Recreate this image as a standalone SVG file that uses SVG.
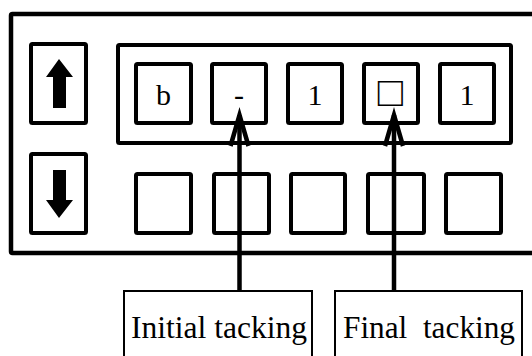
<svg xmlns="http://www.w3.org/2000/svg" width="532" height="356" viewBox="0 0 532 356">
<style>
  .frame{fill:none;stroke:#000;stroke-width:4.5}
  .box{fill:none;stroke:#000;stroke-width:4}
  .cell{fill:#fff;stroke:#000;stroke-width:4}
  .label{fill:#fff;stroke:#000;stroke-width:2}
  .sym{font-family:"Liberation Serif","Times New Roman",serif;font-size:30px;fill:#000;text-anchor:middle}
  .txt{font-family:"Liberation Serif","Times New Roman",serif;font-size:31px;fill:#000;white-space:pre}
  .conn{stroke:#000;stroke-width:4.5;fill:none}
</style>
<defs>
  <marker id="head" markerUnits="userSpaceOnUse" markerWidth="40" markerHeight="30" refX="0" refY="0" orient="auto" overflow="visible" viewBox="-40 -15 40 30">
    <path d="M-31,-9 L0,0 L-31,9" fill="none" stroke="#000" stroke-width="4.5" stroke-linejoin="miter"/>
  </marker>
</defs>
<g id="outer-frame">
  <rect class="frame" x="11" y="14" width="540" height="239" rx="1.5"/>
</g>
<g id="up-button">
  <rect class="box" x="31" y="44" width="55" height="79" rx="1.5"/>
  <path d="M59,59 L73,77 L66,77 L66,108 L53,108 L53,77 L46,77 Z" fill="#000"/>
</g>
<g id="down-button">
  <rect class="box" x="31" y="154" width="55" height="79" rx="1.5"/>
  <path d="M59,218 L73,200 L66,200 L66,170 L53,170 L53,200 L46,200 Z" fill="#000"/>
</g>
<g id="tape-window">
  <rect class="box" x="118" y="45" width="393" height="98" rx="1.5"/>
</g>
<g id="top-cell-1"><rect class="cell" x="136" y="64" width="55" height="59" rx="1.5"/><text class="sym" x="163.5" y="105">b</text></g>
<g id="top-cell-2"><rect class="cell" x="212" y="64" width="54" height="59" rx="1.5"/><text class="sym" x="239" y="105">-</text></g>
<g id="top-cell-3"><rect class="cell" x="288" y="64" width="54" height="59" rx="1.5"/><text class="sym" x="315" y="105">1</text></g>
<g id="top-cell-4"><rect class="cell" x="364" y="64" width="54" height="59" rx="1.5"/><text class="sym" x="390.5" y="106" style="font-size:42px">□</text></g>
<g id="top-cell-5"><rect class="cell" x="440" y="64" width="54" height="59" rx="1.5"/><text class="sym" x="467" y="105">1</text></g>
<g id="bottom-cell-1"><rect class="cell" x="136" y="174" width="55" height="59" rx="1.5"/></g>
<g id="bottom-cell-2"><rect class="cell" x="214" y="174" width="55" height="59" rx="1.5"/></g>
<g id="bottom-cell-3"><rect class="cell" x="291" y="174" width="54" height="59" rx="1.5"/></g>
<g id="bottom-cell-4"><rect class="cell" x="368" y="174" width="56" height="59" rx="1.5"/></g>
<g id="bottom-cell-5"><rect class="cell" x="446" y="174" width="55" height="59" rx="1.5"/></g>
<g id="label-initial">
  <rect class="label" x="124" y="291" width="188" height="80"/>
  <text class="txt" x="131" y="338" textLength="176" lengthAdjust="spacingAndGlyphs">Initial tacking</text>
</g>
<g id="label-final">
  <rect class="label" x="335" y="291" width="187" height="80"/>
  <text class="txt" x="343" y="338" textLength="172" lengthAdjust="spacingAndGlyphs">Final  tacking</text>
</g>
<g id="connectors">
  <line class="conn" x1="239.5" y1="290" x2="239.5" y2="115" marker-end="url(#head)"/>
  <line class="conn" x1="394" y1="290" x2="394" y2="115" marker-end="url(#head)"/>
</g>
</svg>
